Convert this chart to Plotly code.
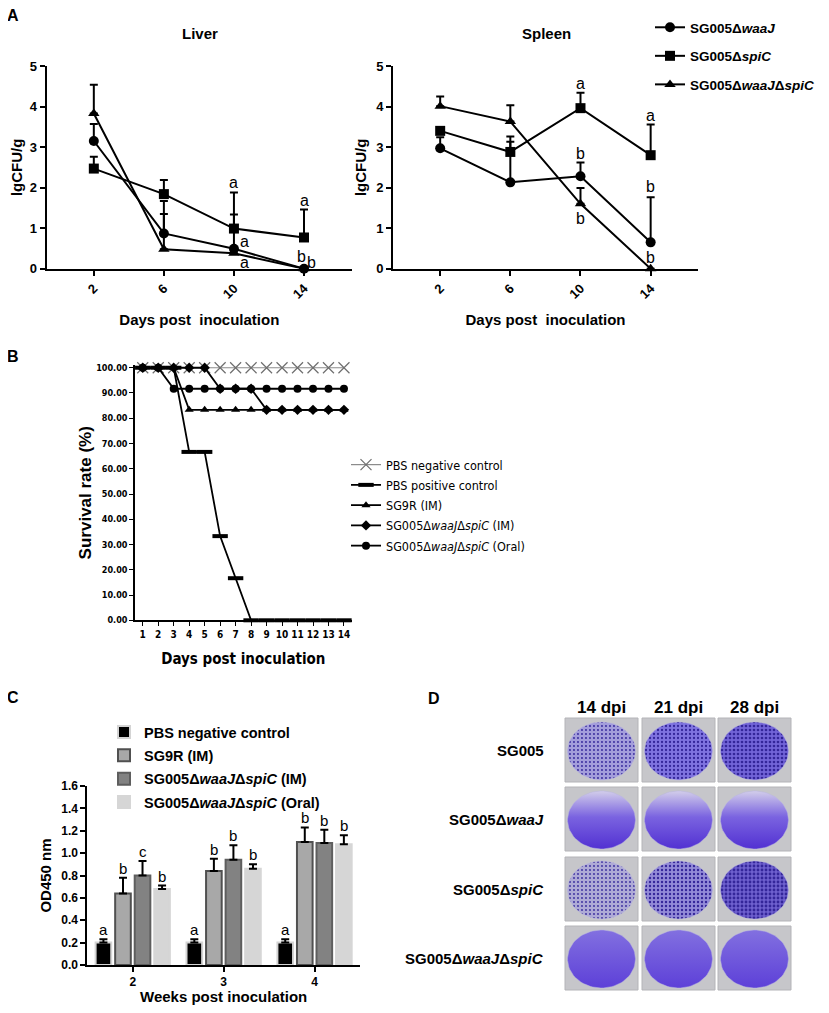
import numpy as np
import plotly.graph_objects as go

# the page body keeps an 8px margin, so the figure is 16px smaller than the window
W, H = 829, 1013
FW, FH = W - 16, H - 16


def px(x):
    return (x - 8) / FW


def py(y):
    return 1 - (y - 8) / FH


FONT = "Liberation Sans, Arial, sans-serif"
NARROW = "Liberation Sans Narrow, DejaVu Sans Condensed, Arial Narrow, sans-serif"

# ---------------- panel A data (lgCFU/g, upper error bar ends) ----------------
days_a = [2, 6, 10, 14]
strains_a = ["SG005Δ<i>waaJ</i>", "SG005Δ<i>spiC</i>", "SG005Δ<i>waaJ</i>Δ<i>spiC</i>"]
symbols_a = ["circle", "square", "triangle-up"]

liver_waaj = [3.15, 0.87, 0.49, 0.0]
liver_waaj_up = [3.57, 1.35, 1.34, 0.0]
liver_spic = [2.47, 1.84, 0.99, 0.77]
liver_spic_up = [2.76, 2.19, 1.88, 1.46]
liver_dbl = [3.83, 0.48, 0.38, 0.0]
liver_dbl_up = [4.54, 1.67, 0.38, 0.0]

spleen_waaj = [2.97, 2.13, 2.28, 0.65]
spleen_waaj_up = [3.24, 3.13, 2.62, 1.76]
spleen_spic = [3.40, 2.88, 3.96, 2.80]
spleen_spic_up = [3.40, 3.26, 4.34, 3.56]
spleen_dbl = [4.01, 3.63, 1.60, 0.0]
spleen_dbl_up = [4.25, 4.03, 1.99, 0.0]

liver_letters = [(10, 2.12, "a"), (10.6, 0.67, "a"), (10.6, 0.16, "a"),
                 (14, 1.69, "a"), (13.85, 0.30, "b"), (14.4, 0.16, "b")]
spleen_letters = [(10, 4.57, "a"), (14, 3.79, "a"), (10, 2.83, "b"),
                  (10, 1.24, "b"), (14, 2.02, "b"), (14, 0.28, "b")]

# ---------------- panel B data (survival %) ----------------
days_b = [1, 2, 3, 4, 5, 6, 7, 8, 9, 10, 11, 12, 13, 14]
surv_neg = [100, 100, 100, 100, 100, 100, 100, 100, 100, 100, 100, 100, 100, 100]
surv_pos = [100, 100, 100, 66.67, 66.67, 33.33, 16.67, 0, 0, 0, 0, 0, 0, 0]
surv_sg9r = [100, 100, 100, 83.33, 83.33, 83.33, 83.33, 83.33, 83.33, 83.33, 83.33, 83.33, 83.33, 83.33]
surv_im = [100, 100, 100, 100, 100, 91.67, 91.67, 91.67, 83.33, 83.33, 83.33, 83.33, 83.33, 83.33]
surv_oral = [100, 100, 91.67, 91.67, 91.67, 91.67, 91.67, 91.67, 91.67, 91.67, 91.67, 91.67, 91.67, 91.67]
groups_b = ["PBS negative control", "PBS positive control", "SG9R (IM)",
            "SG005Δ<i>waaJ</i>Δ<i>spiC</i> (IM)", "SG005Δ<i>waaJ</i>Δ<i>spiC</i> (Oral)"]

# ---------------- panel C data (OD450) ----------------
weeks_c = ["2", "3", "4"]
groups_c = ["PBS negative control", "SG9R (IM)", "SG005Δ<i>waaJ</i>Δ<i>spiC</i> (IM)",
            "SG005Δ<i>waaJ</i>Δ<i>spiC</i> (Oral)"]
od_pbs = [0.20, 0.20, 0.20]
od_pbs_up = [0.23, 0.23, 0.23]
od_sg9r = [0.64, 0.84, 1.10]
od_sg9r_up = [0.78, 0.95, 1.23]
od_im = [0.80, 0.94, 1.09]
od_im_up = [0.93, 1.07, 1.21]
od_oral = [0.68, 0.86, 1.08]
od_oral_up = [0.71, 0.90, 1.16]
letters_c = [["a", "a", "a"], ["b", "b", "b"], ["c", "b", "b"], ["b", "b", "b"]]

# ---------------- panel D labels ----------------
dpi_labels = ["14 dpi", "21 dpi", "28 dpi"]
strains_d = ["SG005", "SG005Δ<i>waaJ</i>", "SG005Δ<i>spiC</i>", "SG005Δ<i>waaJ</i>Δ<i>spiC</i>"]
look_d = ["speckle", "gradient", "speckle", "solid"]

fig = go.Figure()


def upper(vals, ups):
    return [u - v for v, u in zip(vals, ups)]


# panel D: plate photos drawn on a pixel-space overlay axis (added first, sits underneath)
t = np.linspace(0, 2 * np.pi, 80)
tile_w, tile_h = 73, 64
col_x0 = [565, 642, 718]
row_y0 = [718, 787, 857, 926]
speckle_bg = [["#a39ddb", "#7f73e0", "#7264d8"], None, ["#aeaad6", "#938bd8", "#6e60cf"], None]
speckle_sol = [[0.18, 0.25, 0.35], None, [0.16, 0.28, 0.4], None]
shapes = []
for r, look in enumerate(look_d):
    for c in range(3):
        x0, y0 = col_x0[c], row_y0[r]
        shapes.append(dict(type="rect", xref="x5", yref="y5", x0=x0, x1=x0 + tile_w, y0=y0,
                           y1=y0 + tile_h, fillcolor="#c6c6ca", line=dict(color="#b4b4b8", width=1),
                           layer="below"))
        cx, cy = x0 + tile_w / 2, y0 + tile_h / 2 + 1
        bx = cx + 34 * np.cos(t)
        by = cy + 29 * np.sin(t)
        kw = dict(x=bx, y=by, mode="lines", fill="toself", line=dict(width=0.5, color="#b9b4e0"),
                  xaxis="x5", yaxis="y5", showlegend=False, hoverinfo="skip")
        if look == "speckle":
            kw["fillpattern"] = dict(shape=".", fgcolor="#34269a", bgcolor=speckle_bg[r][c],
                                     size=4, solidity=speckle_sol[r][c])
        elif look == "gradient":
            kw["fillgradient"] = dict(type="vertical", start=cy + 29, stop=cy - 29,
                                      colorscale=[[0, "#5231d2"], [0.55, "#7a63e0"], [1, "#d2cdea"]])
        else:
            kw["fillgradient"] = dict(type="vertical", start=cy + 29, stop=cy - 29,
                                      colorscale=[[0, "#5d40d8"], [1, "#8270e0"]])
        fig.add_trace(go.Scatter(**kw))

# panel A traces
liver_sets = [(liver_waaj, liver_waaj_up), (liver_spic, liver_spic_up), (liver_dbl, liver_dbl_up)]
spleen_sets = [(spleen_waaj, spleen_waaj_up), (spleen_spic, spleen_spic_up), (spleen_dbl, spleen_dbl_up)]
for i, name in enumerate(strains_a):
    for j, (vals, ups) in enumerate([liver_sets[i], spleen_sets[i]]):
        fig.add_trace(go.Scatter(
            x=days_a, y=vals, name="<b>" + name + "</b>", mode="lines+markers",
            line=dict(color="black", width=2),
            marker=dict(symbol=symbols_a[i], size=10, color="black"),
            error_y=dict(type="data", symmetric=False, array=upper(vals, ups),
                         arrayminus=[0] * 4, color="black", thickness=2, width=4),
            cliponaxis=False, xaxis="x" if j == 0 else "x2", yaxis="y" if j == 0 else "y2",
            showlegend=(j == 0), legend="legend", legendgroup="a%d" % i))

# panel B traces
surv_sets = [surv_neg, surv_pos, surv_sg9r, surv_im, surv_oral]
sym_b = ["x-thin-open", "line-ew-open", "triangle-up", "diamond", "circle"]
for i, name in enumerate(groups_b):
    grey = i == 0
    fig.add_trace(go.Scatter(
        x=days_b, y=surv_sets[i], name=name, mode="lines+markers",
        line=dict(color="#8c8c8c" if grey else "black", width=1.2 if grey else 1.8),
        marker=dict(symbol=sym_b[i], size=11 if i < 2 else 8, color="#6e6e6e" if grey else "black",
                    line=dict(width=1.2 if grey else 4 if i == 1 else 0,
                              color="#6e6e6e" if grey else "black")),
        cliponaxis=False, xaxis="x3", yaxis="y3", legend="legend2", legendgroup="b%d" % i))

# panel C traces
od_sets = [(od_pbs, od_pbs_up), (od_sg9r, od_sg9r_up), (od_im, od_im_up), (od_oral, od_oral_up)]
fills_c = ["#000000", "#a8a8a8", "#828282", "#d6d6d6"]
edges_c = ["#d4d4d4", "#505050", "#5e5e5e", "#d6d6d6"]
for i, name in enumerate(groups_c):
    vals, ups = od_sets[i]
    fig.add_trace(go.Bar(
        x=weeks_c, y=vals, name="<b>" + name + "</b>",
        marker=dict(color=fills_c[i], line=dict(color=edges_c[i], width=2)),
        error_y=dict(type="data", symmetric=False, array=upper(vals, ups),
                     arrayminus=[0] * 3, color="black", thickness=2, width=4),
        xaxis="x4", yaxis="y4", legend="legend3", legendgroup="c%d" % i))

ann = []
bold = dict(family=FONT, size=15, color="black", weight="bold")


def paper_text(text, x, y, font, xanchor="center"):
    ann.append(dict(text=text, x=px(x), y=py(y), xref="paper", yref="paper", showarrow=False,
                    xanchor=xanchor, yanchor="middle", font=font))


for lab, x, y in [("A", 13, 16), ("B", 13, 356), ("C", 13, 697), ("D", 434, 698)]:
    paper_text(lab, x, y, dict(family=FONT, size=16, color="black", weight="bold"))
paper_text("Liver", 200, 33, bold)
paper_text("Spleen", 546, 33, bold)
for xr, yr, letters in [("x", "y", liver_letters), ("x2", "y2", spleen_letters)]:
    for x, y, s in letters:
        ann.append(dict(text=s, x=x, y=y, xref=xr, yref=yr, showarrow=False,
                        xanchor="center", yanchor="middle",
                        font=dict(family=FONT, size=16, color="black")))
slot = (1 - 0.14) / 4
for i in range(4):
    ups = od_sets[i][1]
    for k in range(3):
        ann.append(dict(text=letters_c[i][k], x=k + (i - 1.5) * slot, y=ups[k], xref="x4", yref="y4",
                        xanchor="center", yanchor="bottom", yshift=-1, showarrow=False,
                        font=dict(family=FONT, size=15, color="black")))
for c, lab in enumerate(dpi_labels):
    paper_text(lab, col_x0[c] + tile_w / 2, 707, dict(family=FONT, size=17, color="black", weight="bold"))
for r, lab in enumerate(strains_d):
    paper_text(lab, 546, row_y0[r] + tile_h / 2, bold, xanchor="right")

axis_a = dict(showline=True, linecolor="black", linewidth=2, ticks="outside", tickwidth=2, ticklen=5,
              tickcolor="black", showgrid=False, zeroline=False, automargin=False,
              tickfont=dict(family=FONT, size=13, color="black", weight="bold"))
xa = dict(axis_a, tickvals=days_a, tickangle=-45, range=[-0.69, 16.74],
          title=dict(text="Days post  inoculation", font=bold, standoff=14))
ya = dict(axis_a, range=[0, 5], dtick=1, title=dict(text="lgCFU/g", font=bold, standoff=6))

axis_b = dict(showline=True, linecolor="black", linewidth=1.5, ticks="outside", tickwidth=1.2, ticklen=4,
              tickcolor="black", showgrid=False, zeroline=False, automargin=False,
              tickfont=dict(family=NARROW, size=9, color="black", weight="bold"))
axis_c = dict(showline=True, linecolor="black", linewidth=2, ticks="outside", tickwidth=2, ticklen=5,
              tickcolor="black", showgrid=False, zeroline=False, automargin=False,
              tickfont=dict(family=FONT, size=12, color="black", weight="bold"))

fig.update_layout(
    template="none",
    width=FW, height=FH, margin=dict(l=0, r=0, t=0, b=0, autoexpand=False),
    plot_bgcolor="rgba(0,0,0,0)", paper_bgcolor="white",
    font=dict(family=FONT, color="black"),
    barmode="group", bargap=0.14, bargroupgap=0.2,
    xaxis=dict(xa, domain=[px(46.7), px(352)], anchor="y"),
    yaxis=dict(ya, domain=[py(268.7), py(66)], anchor="x"),
    xaxis2=dict(xa, domain=[px(393), px(698)], anchor="y2", range=[-0.69, 16.7]),
    yaxis2=dict(ya, domain=[py(268.7), py(66)], anchor="x2"),
    xaxis3=dict(axis_b, domain=[px(135), px(351.7)], anchor="y3", range=[0.5, 14.5], dtick=1,
                tickangle=0, tickfont=dict(family=NARROW, size=10, color="black", weight="bold"),
                title=dict(text="Days post inoculation", standoff=14,
                           font=dict(family=NARROW, size=15, color="black", weight="bold"))),
    yaxis3=dict(axis_b, domain=[py(620.3), py(365.2)], anchor="x3", range=[0, 101], dtick=10,
                tickformat=".2f",
                title=dict(text="Survival rate (%)", standoff=0,
                           font=dict(family=FONT, size=17, color="black", weight="bold"))),
    xaxis4=dict(axis_c, domain=[px(87.3), px(360)], anchor="y4", type="category", range=[-0.5, 2.5],
                title=dict(text="Weeks post inoculation", font=bold, standoff=8)),
    yaxis4=dict(axis_c, domain=[py(965), py(786)], anchor="x4", range=[0, 1.6], dtick=0.2,
                tickformat=".1f", title=dict(text="OD450 nm", font=bold, standoff=6)),
    xaxis5=dict(domain=[0, 1], range=[8, 8 + FW], visible=False, anchor="y5", automargin=False),
    yaxis5=dict(domain=[0, 1], range=[8 + FH, 8], visible=False, anchor="x5", automargin=False),
    legend=dict(x=px(650), y=py(12), xanchor="left", yanchor="top", bgcolor="rgba(0,0,0,0)",
                font=dict(family=FONT, size=13.5, color="black"), itemwidth=30, tracegroupgap=8),
    legend2=dict(x=px(346), y=py(450), xanchor="left", yanchor="top", bgcolor="rgba(0,0,0,0)",
                 font=dict(family=NARROW, size=12.5, color="black"), itemwidth=30, tracegroupgap=1),
    legend3=dict(x=px(104), y=py(716), xanchor="left", yanchor="top", bgcolor="rgba(0,0,0,0)",
                 font=dict(family=FONT, size=14.5, color="black"), itemwidth=30, tracegroupgap=1.5),
    annotations=ann, shapes=shapes,
)

fig.write_html("out.html")
